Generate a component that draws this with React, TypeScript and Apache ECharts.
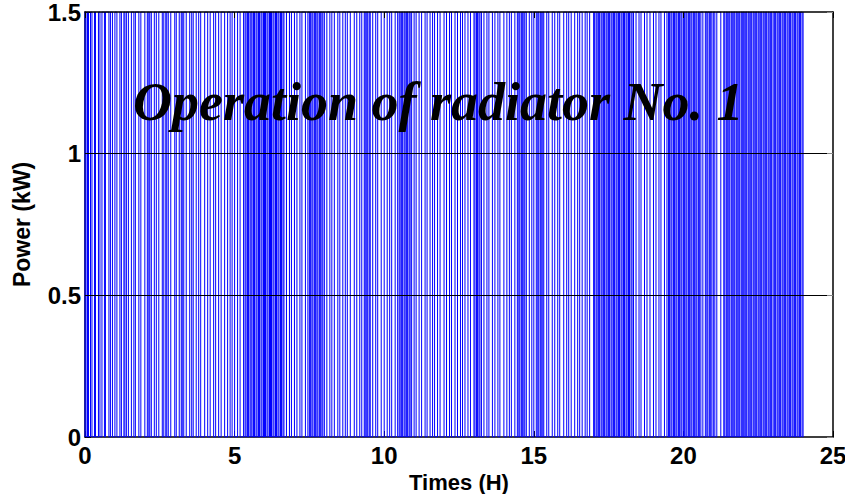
import React, { useEffect, useRef } from "react";
import * as echarts from "echarts";

// Durations (minutes) of alternating ON (1.5 kW) / OFF (0 kW) states, starting ON at t = 0
const hours00to04: number[] = [
  2, 3, 2, 4, 3, 5, 2, 6, 3, 4, 5, 2, 7, 3, 4, 5,
  4, 6, 3, 5, 2, 3, 4, 6, 5, 3, 7, 4, 8,
  5, 3, 2, 3, 6, 4, 5, 7, 3, 4, 2, 3, 5, 8,
  3, 6, 4, 2, 3, 5, 7, 4, 3, 6, 5, 4, 8,
];
const hours04to08: number[] = [
  6, 5, 7, 4, 6, 5, 7, 6, 5, 4, 5,
  6, 5, 7, 3, 2, 3, 2, 3, 2, 2, 3, 2, 3, 2, 3, 2, 3, 2, 3, 2,
  2, 3, 2, 3, 2, 2, 3, 2, 3, 2, 3, 2, 3, 2, 3, 2, 5, 6, 4, 6,
  5, 6, 4, 7, 5, 3, 2, 3, 2, 3, 2, 3, 2, 3, 2, 3, 2, 3,
];
const hours08to12: number[] = [
  5, 6, 4, 5, 7, 4, 6, 5, 4, 6, 8,
  5, 6, 4, 5, 2, 3, 2, 3, 2, 5, 6, 4, 7, 6,
  6, 5, 4, 7, 5, 3, 2, 3, 2, 3, 2, 3, 2, 3, 2, 3, 5,
  4, 6, 5, 7, 4, 6, 5, 4, 6, 5, 8,
];
const hours12to16: number[] = [
  5, 6, 4, 7, 5, 6, 4, 5, 6, 5, 7,
  2, 3, 2, 3, 2, 3, 5, 6, 4, 7, 5, 6, 4, 8,
  6, 5, 4, 7, 5, 3, 2, 3, 2, 3, 2, 3, 6, 5, 4,
  5, 3, 2, 3, 2, 3, 2, 6, 4, 7, 5, 6, 4, 8,
];
const hours16to20: number[] = [
  6, 4, 5, 7, 6, 4, 5, 6, 4, 5, 8,
  2, 3, 2, 3, 2, 3, 2, 3, 2, 3, 2, 3, 2, 3, 2, 3, 2, 3, 2, 3, 2, 3, 2, 3,
  2, 3, 2, 3, 2, 3, 2, 3, 5, 6, 4, 7, 5, 6, 7,
  5, 6, 4, 7, 5, 3, 2, 3, 2, 3, 2, 3, 2, 3, 2, 3, 2, 3,
];
const hours20to24: number[] = [
  2, 3, 2, 3, 2, 3, 2, 3, 2, 3, 2, 3, 2, 3, 4, 5, 3, 2, 3, 2, 3, 3,
  3, 4, 8, 6, 2, 3, 2, 3, 2, 3, 2, 3, 2, 3, 2, 3, 2, 3, 2, 2,
  2, 3, 2, 3, 2, 3, 2, 3, 2, 3, 2, 3, 2, 3, 2, 3, 2, 3, 2, 3, 2, 3, 2, 3,
  3, 2, 3, 2, 3, 2, 3, 2, 3, 2, 3, 2, 3, 2, 3, 2, 3, 2, 3, 2, 3, 2, 3, 2,
];

const powerLevels: number[] = [0, 1.5]; // kW, OFF / ON
const yTicks: number[] = [0, 0.5, 1, 1.5];
const xTicks: number[] = [0, 5, 10, 15, 20, 25];
const gridValues: number[] = [0.5, 1];
const titleText = "Operation of radiator No. 1";
const xName = "Times (H)";
const yName = "Power (kW)";

function buildSeries(): [number, number][] {
  const durations = [
    ...hours00to04,
    ...hours04to08,
    ...hours08to12,
    ...hours12to16,
    ...hours16to20,
    ...hours20to24,
  ];
  const pts: [number, number][] = [];
  let t = 0;
  let on = true;
  pts.push([0, powerLevels[0]]);
  pts.push([0, powerLevels[1]]);
  for (const d of durations) {
    const level = on ? powerLevels[1] : powerLevels[0];
    t += d;
    const h = t / 60;
    pts.push([h, level]);
    on = !on;
    pts.push([h, on ? powerLevels[1] : powerLevels[0]]);
  }
  return pts;
}

const labelFont = {
  fontFamily: "Liberation Sans",
  fontWeight: "bold" as const,
  fontSize: 24,
  color: "#000",
};

export default function App() {
  const ref = useRef<HTMLDivElement>(null);
  useEffect(() => {
    document.body.style.margin = "0";
    if (!ref.current) return;
    const chart = echarts.init(ref.current, undefined, { renderer: "svg" });
    const data = buildSeries();
    chart.setOption({
      animation: false,
      backgroundColor: "#fff",
      grid: {
        left: 85,
        right: 12,
        top: 12,
        bottom: 57,
        containLabel: false,
        outerBoundsMode: "none",
      },
      xAxis: [
        {
          type: "value",
          min: xTicks[0],
          max: xTicks[xTicks.length - 1],
          interval: 5,
          name: xName,
          nameLocation: "middle",
          nameGap: 25,
          nameTextStyle: { ...labelFont, fontSize: 22 },
          axisLine: { show: true, onZero: false, lineStyle: { color: "#000", width: 1.5 } },
          axisTick: { show: true, inside: true, length: 6, lineStyle: { color: "#000" } },
          axisLabel: { ...labelFont, margin: 6 },
          splitLine: { show: false },
        },
        {
          type: "value",
          position: "top",
          min: xTicks[0],
          max: xTicks[xTicks.length - 1],
          interval: 5,
          z: 5,
          axisLine: { show: true, onZero: false, lineStyle: { color: "#000", width: 1.5 } },
          axisTick: { show: true, inside: true, length: 6, lineStyle: { color: "#000" } },
          axisLabel: { show: false },
          splitLine: { show: false },
        },
      ],
      yAxis: [
        {
          type: "value",
          min: yTicks[0],
          max: yTicks[yTicks.length - 1],
          interval: 0.5,
          name: yName,
          nameLocation: "middle",
          nameGap: 52,
          nameTextStyle: { ...labelFont, fontSize: 23 },
          axisLine: { show: true, onZero: false, lineStyle: { color: "#000", width: 1.5 } },
          axisTick: { show: true, inside: true, length: 6, lineStyle: { color: "#000" } },
          axisLabel: { ...labelFont, margin: 4 },
          splitLine: { show: false },
        },
        {
          type: "value",
          position: "right",
          min: yTicks[0],
          max: yTicks[yTicks.length - 1],
          interval: 0.5,
          z: 5,
          axisLine: { show: true, onZero: false, lineStyle: { color: "#000", width: 1.5 } },
          axisTick: { show: true, inside: true, length: 6, lineStyle: { color: "#888" } },
          axisLabel: { show: false },
          splitLine: { show: false },
        },
      ],
      series: [
        {
          type: "line",
          data,
          showSymbol: false,
          symbol: "none",
          lineStyle: { color: "#0000ff", width: 1 },
          markLine: {
            silent: true,
            symbol: "none",
            label: { show: false },
            lineStyle: { color: "#000", width: 1, type: "solid" },
            data: gridValues.map((v) => ({ yAxis: v })),
            z: 4,
          },
        },
      ],
      graphic: [
        {
          type: "text",
          left: 133,
          top: 75,
          z: 10,
          style: {
            text: titleText,
            font: "italic bold 54px 'Liberation Serif', 'Times New Roman', serif",
            fill: "#000",
          },
        },
      ],
    });
    return () => chart.dispose();
  }, []);
  return <div ref={ref} style={{ width: 845, height: 494 }} />;
}
